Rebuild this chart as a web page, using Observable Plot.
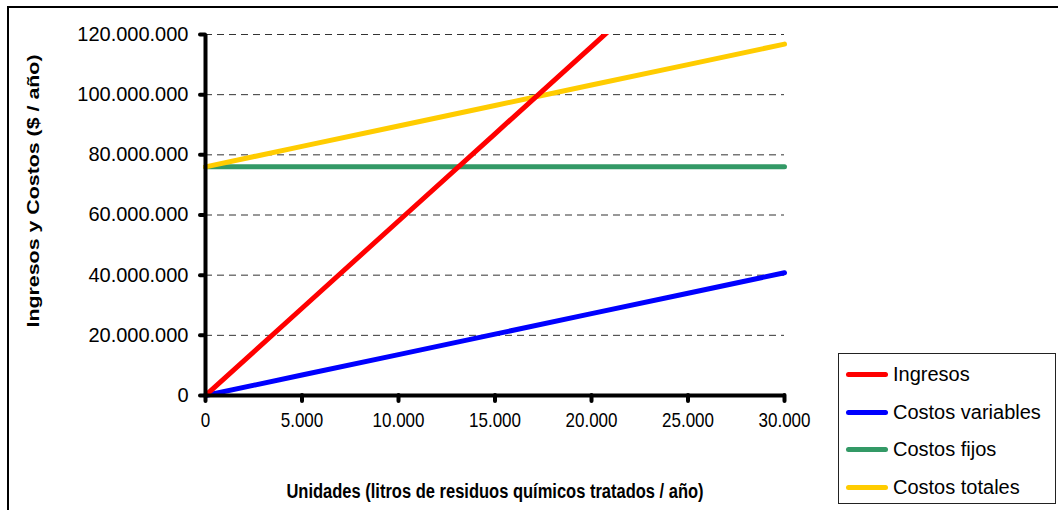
<!DOCTYPE html>
<html>
<head>
<meta charset="utf-8">
<script src="https://cdn.jsdelivr.net/npm/d3@7"></script>
<script src="https://cdn.jsdelivr.net/npm/@observablehq/plot@0.6"></script>
<style>
  html, body { margin: 0; padding: 0; background: #fff; }
  #wrap { position: relative; width: 1058px; height: 510px; overflow: hidden; font-family: "Liberation Sans", Arial, sans-serif; }
  #border { position: absolute; left: 7px; top: 6px; width: 1100px; height: 600px; border: 2px solid #000; box-sizing: border-box; }
  #legend { position: absolute; left: 838px; top: 353px; width: 218px; height: 151px; border: 1px solid #222; background: #fff; box-sizing: border-box; }
  .item { position: absolute; left: 0; height: 30px; display: flex; align-items: center; }
  .swatch { width: 42px; height: 5px; border-radius: 3px; margin-left: 7px; margin-right: 5px; }
  .lbl { font-size: 20px; color: #000; white-space: nowrap; }
  #chart { position: absolute; left: 0; top: 0; }
</style>
</head>
<body>
<div id="wrap">
  <div id="border"></div>
  <div id="chart"></div>
  <div id="legend"></div>
</div>
<script>
// ---- Data ----
const unidades = [0, 5000, 10000, 15000, 20000, 25000, 30000];
const ingresos = [0, 29000000, 58000000, 87000000, 116000000, 145000000, 174000000];
const costosVariables = [0, 6800000, 13600000, 20400000, 27200000, 34000000, 40800000];
const costosFijos = [76000000, 76000000, 76000000, 76000000, 76000000, 76000000, 76000000];
const costosTotales = [76000000, 82800000, 89600000, 96400000, 103200000, 110000000, 116800000];

const seriesNames = ["Ingresos", "Costos variables", "Costos fijos", "Costos totales"];
const seriesColors = ["#FF0000", "#0000FF", "#339966", "#FFCC00"];
const xTicks = [0, 5000, 10000, 15000, 20000, 25000, 30000];
const yTicks = [0, 20000000, 40000000, 60000000, 80000000, 100000000, 120000000];
const xTitle = "Unidades (litros de residuos químicos tratados / año)";
const yTitle = "Ingresos y Costos ($ / año)";

const seriesValues = [ingresos, costosVariables, costosFijos, costosTotales];
const rows = seriesNames.map((name, i) => unidades.map((u, j) => ({x: u, y: seriesValues[i][j], serie: name})));

const locale = d3.formatLocale({decimal: ",", thousands: ".", grouping: [3], currency: ["$", ""]});
const fmt = locale.format(",d");

const lineOpts = (i) => ({x: "x", y: "y", stroke: seriesColors[i], strokeWidth: 5, strokeLinecap: "round", strokeLinejoin: "round"});

const chart = Plot.plot({
  width: 1058,
  height: 510,
  marginLeft: 205,
  marginRight: 274,
  marginTop: 34,
  marginBottom: 115,
  style: {fontFamily: "'Liberation Sans', Arial, sans-serif", background: "transparent", color: "#000"},
  x: {domain: [0, 30000]},
  y: {domain: [0, 120000000]},
  marks: [
    Plot.gridY(yTicks.slice(1), {stroke: "#333", strokeOpacity: 1, strokeWidth: 1, strokeDasharray: "7,5"}),
    Plot.line(rows[2], lineOpts(2)),
    Plot.line(rows[3], lineOpts(3)),
    Plot.line(rows[1], lineOpts(1)),
    Plot.line(rows[0], {...lineOpts(0), clip: true}),
    Plot.ruleX([0], {stroke: "#000", strokeWidth: 4}),
    Plot.ruleY([0], {stroke: "#000", strokeWidth: 4}),
    Plot.axisX(xTicks, {tickSize: 6, tickPadding: 11, strokeWidth: 4, strokeLinecap: "round", tickFormat: fmt, label: null, fontSize: 17}),
    Plot.axisY(yTicks, {tickSize: 5, tickPadding: 12, strokeWidth: 4, strokeLinecap: "round", tickFormat: fmt, label: null, fontSize: 20}),
    Plot.text([xTitle], {frameAnchor: "bottom", dy: 96, lineAnchor: "middle", fontWeight: "bold", fontSize: 16.5}),
    Plot.text([yTitle], {frameAnchor: "left", rotate: -90, dx: -172, dy: -24, lineAnchor: "middle", textAnchor: "middle", fontWeight: "bold", fontSize: 17})
  ]
});
document.getElementById("chart").appendChild(chart);

// stretch y title to the reference length
d3.select(chart).selectAll("text").filter(function() { return this.textContent === yTitle; })
  .attr("textLength", 273).attr("lengthAdjust", "spacingAndGlyphs");

// condensed (taller) x tick labels and x title, as in the reference
function condense(sel, newSize) {
  sel.each(function() {
    const L = this.getComputedTextLength();
    d3.select(this).attr("font-size", newSize).style("font-size", newSize + "px")
      .attr("textLength", L).attr("lengthAdjust", "spacingAndGlyphs");
  });
}
condense(d3.select(chart).selectAll("g[aria-label='x-axis tick label'] text"), 21);
condense(d3.select(chart).selectAll("text").filter(function() { return this.textContent === xTitle; }), 20);

// legend
const legend = document.getElementById("legend");
const centers = [20, 58, 95, 133];
seriesNames.forEach((name, i) => {
  const it = document.createElement("div");
  it.className = "item";
  it.style.top = (centers[i] - 15) + "px";
  it.innerHTML = `<div class="swatch" style="background:${seriesColors[i]}"></div><span class="lbl">${name}</span>`;
  legend.appendChild(it);
});
</script>
</body>
</html>
